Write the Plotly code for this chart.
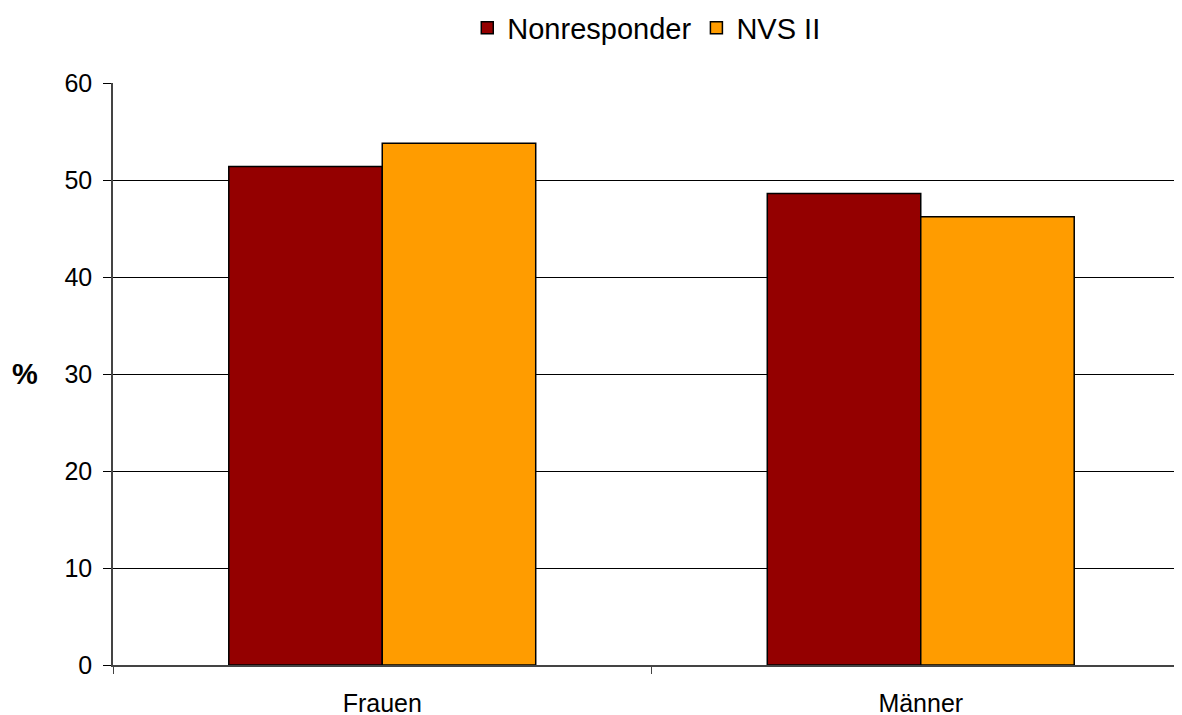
import plotly.graph_objects as go

categories = ["Frauen", "Männer"]
nonresponder = [51.4, 48.6]
nvs2 = [53.8, 46.2]

fig = go.Figure()
fig.add_trace(go.Bar(x=categories, y=nonresponder, name="Nonresponder",
                     marker=dict(color="#940000", line=dict(color="black", width=1.5))))
fig.add_trace(go.Bar(x=categories, y=nvs2, name="NVS II",
                     marker=dict(color="#FF9C00", line=dict(color="black", width=1.5))))

# page body has an 8px margin; plot runs off the right edge like the original
fig.update_layout(
    width=1182, height=720,
    margin=dict(l=105, r=0, t=75, b=63, autoexpand=False),
    paper_bgcolor="white", plot_bgcolor="white",
    font=dict(family="Liberation Sans, Arial", size=25, color="black"),
    barmode="group",
    bargap=0.43,
    bargroupgap=0,
    legend=dict(orientation="h", x=0.540, xref="container", xanchor="center",
                y=1 - 20 / 720, yref="container", yanchor="middle",
                font=dict(size=29), itemwidth=30, traceorder="normal"),
    annotations=[dict(text="<b>%</b>", xref="paper", yref="paper", x=-0.0817, y=0.5,
                      xanchor="center", yanchor="middle",
                      showarrow=False, font=dict(size=29))],
)
fig.update_xaxes(range=[-0.5, 1.5], showline=True, linecolor="#444", linewidth=1.5,
                 tickson="boundaries", ticks="outside", ticklen=7, tickcolor="#444",
                 showgrid=False, automargin=False, ticklabelstandoff=15)
fig.update_yaxes(range=[0, 60], dtick=10, showline=True, linecolor="#444", linewidth=1.5,
                 ticks="outside", ticklen=8, tickcolor="black", showgrid=True,
                 gridcolor="black", gridwidth=1, zeroline=False, automargin=False,
                 ticklabelstandoff=6)

fig.write_html("out.html")
